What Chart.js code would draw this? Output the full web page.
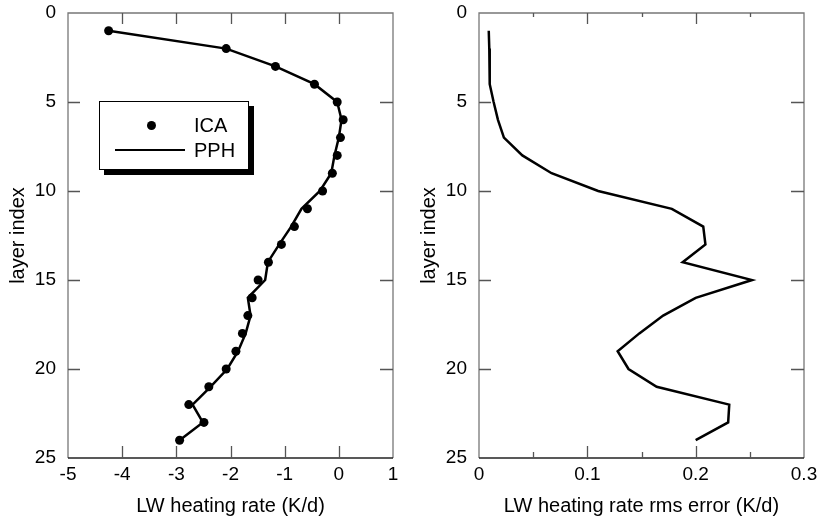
<!DOCTYPE html>
<html>
<head>
<meta charset="utf-8">
<script src="https://cdn.jsdelivr.net/npm/chart.js@4.4.1/dist/chart.umd.min.js"></script>
<style>
  body { margin: 0; background: #fff; font-family: "Liberation Sans", Arial, sans-serif; }
  #wrap { position: relative; width: 822px; height: 531px; }
  .box { position: absolute; top: 0; width: 411px; height: 531px; }
  #legend {
    position: absolute; left: 99px; top: 101px; width: 148px; height: 67px;
    border: 1.5px solid #000; background: #fff; box-shadow: 5px 5px 0 #000;
    font-size: 20px; color: #000;
  }
  #legend .dot { position: absolute; left: 47px; top: 19px; width: 9px; height: 9px; border-radius: 50%; background: #000; }
  #legend .ln { position: absolute; left: 15px; top: 47px; width: 70px; height: 2px; background: #000; }
  #legend .t { position: absolute; left: 94px; line-height: 20px; }
</style>
</head>
<body>
<div id="wrap">
  <div class="box" style="left:0"><canvas id="chart1"></canvas></div>
  <div class="box" style="left:411px"><canvas id="chart2"></canvas></div>
  <div id="legend">
    <div class="dot"></div><div class="t" style="top:13px">ICA</div>
    <div class="ln"></div><div class="t" style="top:38px">PPH</div>
  </div>
</div>
<script>
// layer index 1..24
var layers = [1, 2, 3, 4, 5, 6, 7, 8, 9, 10, 11, 12, 13, 14, 15, 16, 17, 18, 19, 20, 21, 22, 23, 24]

// LW heating rate (K/d)
var ica = [-4.25, -2.08, -1.17, -0.45, -0.03, 0.08, 0.03, -0.03, -0.12, -0.30, -0.58, -0.82,
  -1.06, -1.30, -1.49, -1.60, -1.68, -1.78, -1.90, -2.08, -2.40, -2.77, -2.49, -2.94]
var pph = [-4.25, -2.08, -1.17, -0.45, -0.03, 0.05, 0.00, -0.08, -0.14, -0.35, -0.69, -0.88,
  -1.10, -1.31, -1.36, -1.68, -1.63, -1.72, -1.86, -2.06, -2.37, -2.70, -2.51, -2.94]

// rms error (K/d)
var rms = [0.009, 0.0095, 0.0098, 0.010, 0.0135, 0.0175, 0.023, 0.040, 0.067, 0.110, 0.178, 0.207,
  0.209, 0.188, 0.252, 0.200, 0.170, 0.148, 0.128, 0.138, 0.164, 0.231, 0.230, 0.200]

var leftXTicks = [-4, -3, -2, -1, 0]
var rightXMajor = [0.1, 0.2]
var rightXMinor = [0.05, 0.15, 0.25]
var yTicks = [5, 10, 15, 20]

function pts(xs) {
  return xs.map(function (v, i) { return { x: v, y: layers[i] } })
}

// frame round the plot and inward tick marks
var frameTicks = {
  id: 'frameTicks',
  afterDraw: function (chart, args, o) {
    var ctx = chart.ctx
    var a = chart.chartArea
    var sx = chart.scales.x
    var sy = chart.scales.y
    ctx.save()
    ctx.lineWidth = 1.3
    ctx.strokeStyle = '#777'
    ctx.beginPath()
    ctx.moveTo(a.left, a.bottom); ctx.lineTo(a.left, a.top)
    ctx.lineTo(a.right, a.top); ctx.lineTo(a.right, a.bottom)
    ctx.stroke()
    ctx.strokeStyle = '#222'
    ctx.beginPath()
    ctx.moveTo(a.left, a.bottom); ctx.lineTo(a.right, a.bottom)
    ctx.stroke()
    ctx.strokeStyle = '#555'
    ctx.beginPath()
    o.xMajor.forEach(function (v) {
      var px = Math.round(sx.getPixelForValue(v)) + 0.5
      ctx.moveTo(px, a.bottom); ctx.lineTo(px, a.bottom - 12)
      ctx.moveTo(px, a.top); ctx.lineTo(px, a.top + 11)
    })
    ;(o.xMinor || []).forEach(function (v) {
      var px = Math.round(sx.getPixelForValue(v)) + 0.5
      ctx.moveTo(px, a.bottom); ctx.lineTo(px, a.bottom - 6)
      ctx.moveTo(px, a.top); ctx.lineTo(px, a.top + 4)
    })
    o.yMajor.forEach(function (v) {
      var py = Math.round(sy.getPixelForValue(v)) + 0.5
      ctx.moveTo(a.left, py); ctx.lineTo(a.left + 12, py)
      ctx.moveTo(a.right, py); ctx.lineTo(a.right - 13, py)
    })
    ctx.stroke()
    ctx.restore()
  }
}

function makeOptions(xmin, xmax, step, xTitle, tickOpts) {
  return {
    responsive: false,
    animation: false,
    layout: { padding: { top: 13, right: 18, left: 0, bottom: 0 } },
    plugins: { legend: { display: false }, tooltip: { enabled: false }, frameTicks: tickOpts },
    scales: {
      x: {
        type: 'linear', min: xmin, max: xmax,
        grid: { display: false, drawTicks: false },
        border: { display: false },
        ticks: { stepSize: step, color: '#000', font: { size: 19 }, padding: 5 },
        title: { display: true, text: xTitle, color: '#000', font: { size: 20 }, padding: { bottom: 13 } },
        afterFit: function (s) { s.height = 73; s.paddingLeft = 0; s.paddingRight = 0 }
      },
      y: {
        type: 'linear', min: 0, max: 25, reverse: true,
        grid: { display: false, drawTicks: false },
        border: { display: false },
        ticks: { stepSize: 5, color: '#000', font: { size: 19 }, padding: 12 },
        title: { display: true, text: 'layer index', color: '#000', font: { size: 20 }, padding: { top: 6 } },
        afterFit: function (s) { s.width = 68; s.paddingTop = 0; s.paddingBottom = 0 }
      }
    }
  }
}

Chart.defaults.font.family = '"Liberation Sans", Arial, sans-serif'

var c1 = document.getElementById('chart1')
c1.width = 411; c1.height = 531
var myChart1 = new Chart(c1.getContext('2d'), {
  type: 'scatter',
  data: {
    datasets: [
      {
        label: 'ICA', data: pts(ica),
        pointRadius: 4.5, pointBackgroundColor: '#000', pointBorderWidth: 0, showLine: false
      },
      {
        label: 'PPH', data: pts(pph), showLine: true,
        borderColor: '#000', borderWidth: 2.5, pointRadius: 0, fill: false
      }
    ]
  },
  options: makeOptions(-5, 1, 1, 'LW heating rate (K/d)', { xMajor: leftXTicks, yMajor: yTicks }),
  plugins: [frameTicks]
})

var c2 = document.getElementById('chart2')
c2.width = 411; c2.height = 531
var myChart2 = new Chart(c2.getContext('2d'), {
  type: 'scatter',
  data: {
    datasets: [
      {
        label: 'rms', data: pts(rms), showLine: true,
        borderColor: '#000', borderWidth: 2.5, pointRadius: 0, fill: false
      }
    ]
  },
  options: makeOptions(0, 0.3, 0.1, 'LW heating rate rms error (K/d)',
    { xMajor: rightXMajor, xMinor: rightXMinor, yMajor: yTicks }),
  plugins: [frameTicks]
})
</script>
</body>
</html>
